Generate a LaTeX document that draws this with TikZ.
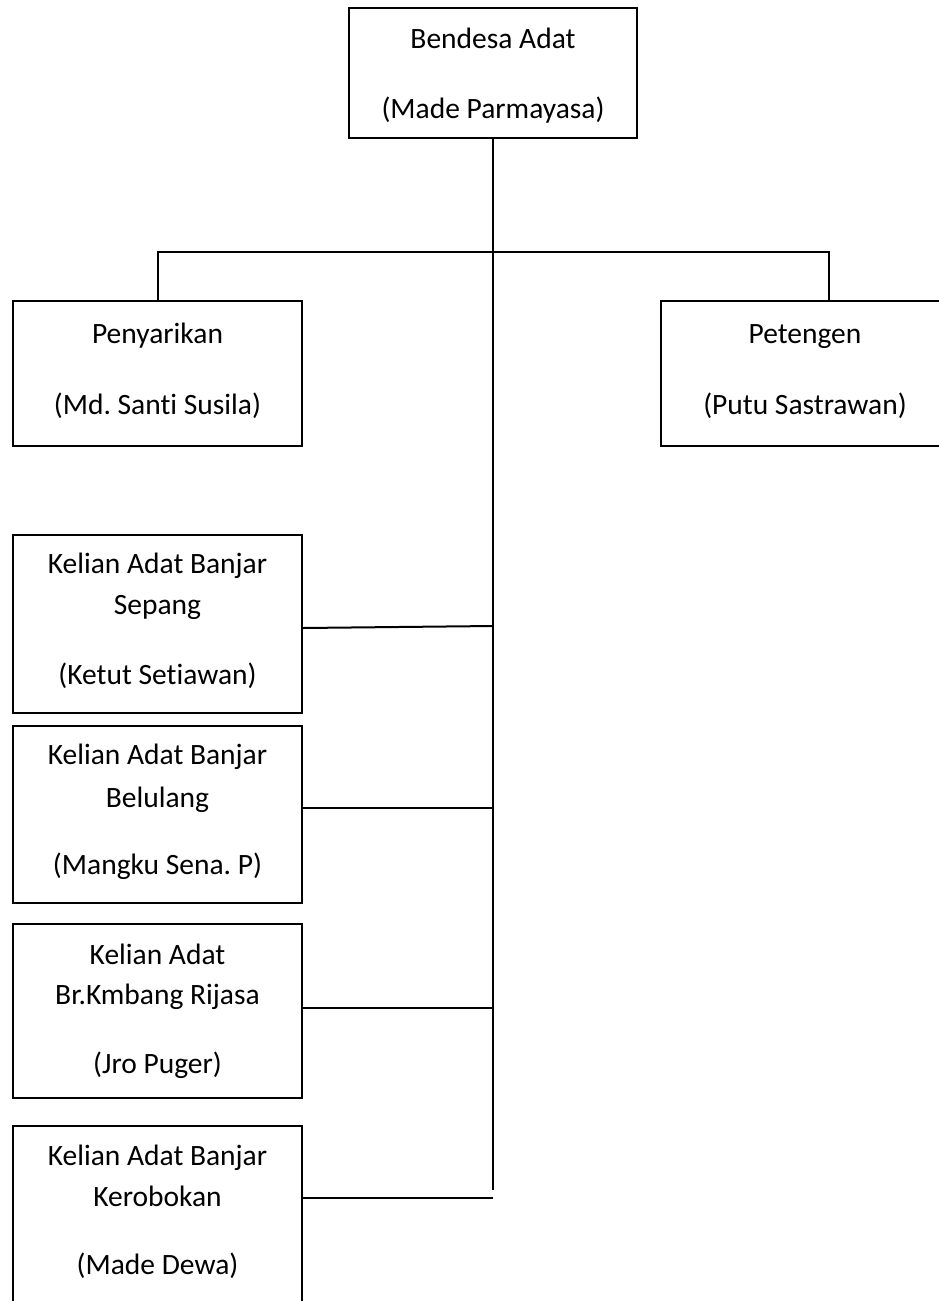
\documentclass[tikz,border=0pt]{standalone}
\usepackage{fontspec}
\setmainfont{Carlito}[Ligatures=NoCommon]
\frenchspacing
\begin{document}
\begin{tikzpicture}[x=1pt,y=-1pt,
  box/.style={draw, line width=2pt, inner sep=0pt, rectangle},
  lbl/.style={anchor=base, inner sep=0pt, font=\fontsize{29.5}{35}\selectfont},
  link/.style={line width=2pt}]
\useasboundingbox (0,0) rectangle (938,1301);
\fill[white] (0,0) rectangle (938,1301);

% boxes
\node[box, minimum width=288pt, minimum height=130pt] (top) at (493,73) {};
\node[box, minimum width=289pt, minimum height=145pt] (pen) at (157.5,373.5) {};
\node[box, minimum width=288pt, minimum height=145pt] (pet) at (805,373.5) {};
\node[box, minimum width=289pt, minimum height=178pt] (k1) at (157.5,624) {};
\node[box, minimum width=289pt, minimum height=177pt] (k2) at (157.5,814.5) {};
\node[box, minimum width=289pt, minimum height=174pt] (k3) at (157.5,1011) {};
\node[box, minimum width=289pt, minimum height=204pt] (k4) at (157.5,1228) {};

% texts
\node[lbl] (topa) at (493,48) {Bendesa Adat};
\node[lbl] (topb) at (493,118) {(Made Parmayasa)};
\node[lbl] (pena) at (157.5,343) {Penyarikan};
\node[lbl] (penb) at (157.5,414) {(Md. Santi Susila)};
\node[lbl] (peta) at (805,343) {Petengen};
\node[lbl] (petb) at (805,414) {(Putu Sastrawan)};
\node[lbl] (k1a) at (157.5,573) {Kelian Adat Banjar};
\node[lbl] (k1b) at (157.5,614) {Sepang};
\node[lbl] (k1c) at (157.5,684) {(Ketut Setiawan)};
\node[lbl] (k2a) at (157.5,764) {Kelian Adat Banjar};
\node[lbl] (k2b) at (157.5,807) {Belulang};
\node[lbl] (k2c) at (157.5,874) {(Mangku Sena. P)};
\node[lbl] (k3a) at (157.5,964) {Kelian Adat};
\node[lbl] (k3b) at (157.5,1004) {Br.Kmbang Rijasa};
\node[lbl] (k3c) at (157.5,1073) {(Jro Puger)};
\node[lbl] (k4a) at (157.5,1165) {Kelian Adat Banjar};
\node[lbl] (k4b) at (157.5,1206) {Kerobokan};
\node[lbl] (k4c) at (157.5,1274) {(Made Dewa)};

% connectors
\coordinate (trunkend) at (493,1190);
\coordinate (barL) at (157.5,252);
\coordinate (barR) at (829,252);
\coordinate (petc) at (829,301);
\coordinate (c1) at (493,626);
\coordinate (c2) at (493,808);
\coordinate (c3) at (493,1008);
\coordinate (c4) at (493,1198);

\draw[link] (top.south) -- (trunkend);
\draw[link] (pen.north) -- (barL) -- (barR) -- (petc);
\draw[link] ([yshift=-4pt]k1.east) -- (c1);
\draw[link] ([yshift=6.5pt]k2.east) -- (c2);
\draw[link] ([yshift=3pt]k3.east) -- (c3);
\draw[link] ([yshift=30pt]k4.east) -- (c4);
\end{tikzpicture}
\end{document}
